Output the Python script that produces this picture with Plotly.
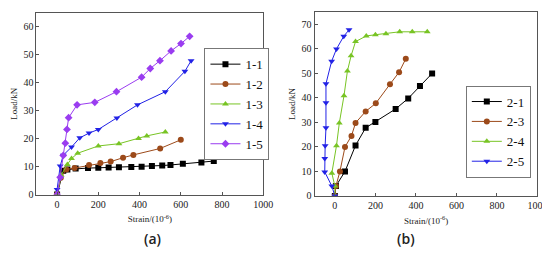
import plotly.graph_objects as go

# ---- Panel (a) data ----
s11_x = [0, 30, 50, 90, 150, 200, 250, 300, 360, 410, 460, 510, 550, 610, 700, 760]
s11_y = [0, 8.5, 9.0, 9.3, 9.5, 9.6, 9.7, 9.8, 9.9, 10.0, 10.2, 10.4, 10.6, 11.0, 11.5, 12.0]
s12_x = [0, 18, 45, 85, 155, 210, 260, 320, 370, 500, 600]
s12_y = [0, 6.0, 9.0, 9.5, 10.6, 11.3, 11.8, 13.2, 14.2, 16.5, 19.6]
s13_x = [0, 20, 50, 70, 100, 200, 300, 395, 435, 525]
s13_y = [0, 7.0, 10.8, 12.9, 14.8, 17.4, 18.2, 20.1, 21.0, 22.4]
s14_x = [0, 15, 30, 70, 110, 155, 200, 290, 390, 525, 620, 650]
s14_y = [1.8, 10.2, 14.1, 17.0, 20.3, 22.0, 23.3, 27.4, 32.1, 36.8, 44.1, 47.9]
s15_x = [0, 15, 30, 40, 48, 56, 97, 183, 288, 410, 452, 499, 553, 601, 643]
s15_y = [0, 6.2, 14.0, 18.4, 23.3, 27.5, 32.1, 33.0, 36.8, 42.0, 45.1, 47.9, 51.4, 54.0, 56.6]

# ---- Panel (b) data ----
s21_x = [0, 5, 50, 102, 152, 200, 300, 362, 420, 480]
s21_y = [0, 4, 10, 20.6, 27.8, 30.2, 35.5, 39.8, 44.9, 50]
s23_x = [0, 5, 25, 50, 82, 102, 152, 202, 272, 317, 350]
s23_y = [0, 4, 10, 20, 24.5, 29.8, 34.5, 37.8, 45.6, 50.5, 56]
s24_x = [0, 0, -15, 8, 22, 45, 62, 80, 102, 155, 200, 252, 320, 382, 456]
s24_y = [0, 4, 9.3, 20.5, 29.8, 40.9, 51, 57.2, 63, 65.3, 65.8, 66.2, 67, 67, 67]
s25_x = [0, -15, -50, -50, -48, -44, -44, -44, -16, 8, 44, 70]
s25_y = [0, 4, 9.8, 15.3, 20.5, 27.8, 38, 45.8, 55, 60, 65.2, 67.8]

x_ticks = [0, 200, 400, 600, 800, 1000]

BLACK = "#000000"
BROWN = "#9c4a1a"
GREEN = "#78c424"
BLUE = "#2222e6"
PURPLE = "#9a3cf0"
FONT = "Liberation Serif"

fig = go.Figure()

def add(x, y, name, color, symbol, xa, ya, legend):
    fig.add_trace(go.Scatter(
        x=x, y=y, name=name, mode="lines+markers",
        line=dict(color=color, width=1),
        marker=dict(color=color, symbol=symbol, size=6),
        xaxis=xa, yaxis=ya, legend=legend))

add(s11_x, s11_y, "1-1", BLACK, "square", "x", "y", "legend")
add(s12_x, s12_y, "1-2", BROWN, "circle", "x", "y", "legend")
add(s13_x, s13_y, "1-3", GREEN, "triangle-up", "x", "y", "legend")
add(s14_x, s14_y, "1-4", BLUE, "triangle-down", "x", "y", "legend")
add(s15_x, s15_y, "1-5", PURPLE, "diamond", "x", "y", "legend")

add(s21_x, s21_y, "2-1", BLACK, "square", "x2", "y2", "legend2")
add(s23_x, s23_y, "2-3", BROWN, "circle", "x2", "y2", "legend2")
add(s24_x, s24_y, "2-4", GREEN, "triangle-up", "x2", "y2", "legend2")
add(s25_x, s25_y, "2-5", BLUE, "triangle-down", "x2", "y2", "legend2")

axis_common = dict(
    showline=True, mirror=True, linecolor="#555555", linewidth=1,
    ticks="inside", ticklen=3, tickcolor="#555555",
    showgrid=False, zeroline=False,
    tickfont=dict(family=FONT, size=10, color="#222222"),
)
xtitle = dict(text="Strain/(10<sup>-6</sup>)", font=dict(family=FONT, size=9, color="#222222"), standoff=7)
ytitle = dict(text="Load/kN", font=dict(family=FONT, size=9, color="#222222"), standoff=4)

legend_common = dict(
    xanchor="center", yanchor="top",
    bgcolor="white", bordercolor="#777777", borderwidth=1,
    font=dict(family=FONT, size=13, color="#111111"),
    itemwidth=30, tracegroupgap=0,
)

fig.update_layout(
    width=550, height=262,
    margin=dict(l=0, r=0, t=0, b=0),
    paper_bgcolor="white", plot_bgcolor="white",
    xaxis=dict(domain=[0.0527, 0.4727], range=[-100, 1000], tickvals=x_ticks,
               anchor="y", title=xtitle, **axis_common),
    yaxis=dict(domain=[0.271, 0.981], range=[0, 65], dtick=10,
               anchor="x", title=ytitle, **axis_common),
    xaxis2=dict(domain=[0.5678, 0.9805], range=[-100, 1000], tickvals=x_ticks,
                anchor="y2", title=xtitle, **axis_common),
    yaxis2=dict(domain=[0.266, 0.9836], range=[0, 75], dtick=10,
                anchor="x2", title=ytitle, **axis_common),
    legend=dict(x=0.424, y=0.843, **legend_common),
    legend2=dict(x=0.908, y=0.697, **legend_common),
    annotations=[
        dict(text="(a)", x=0.249, y=0.053, xref="paper", yref="paper",
             showarrow=False,
             font=dict(family="Open Sans", size=14, weight=600, color="#222222")),
        dict(text="(b)", x=0.758, y=0.053, xref="paper", yref="paper",
             showarrow=False,
             font=dict(family="Open Sans", size=14, weight=600, color="#222222")),
    ],
)

fig.write_html("out.html")
